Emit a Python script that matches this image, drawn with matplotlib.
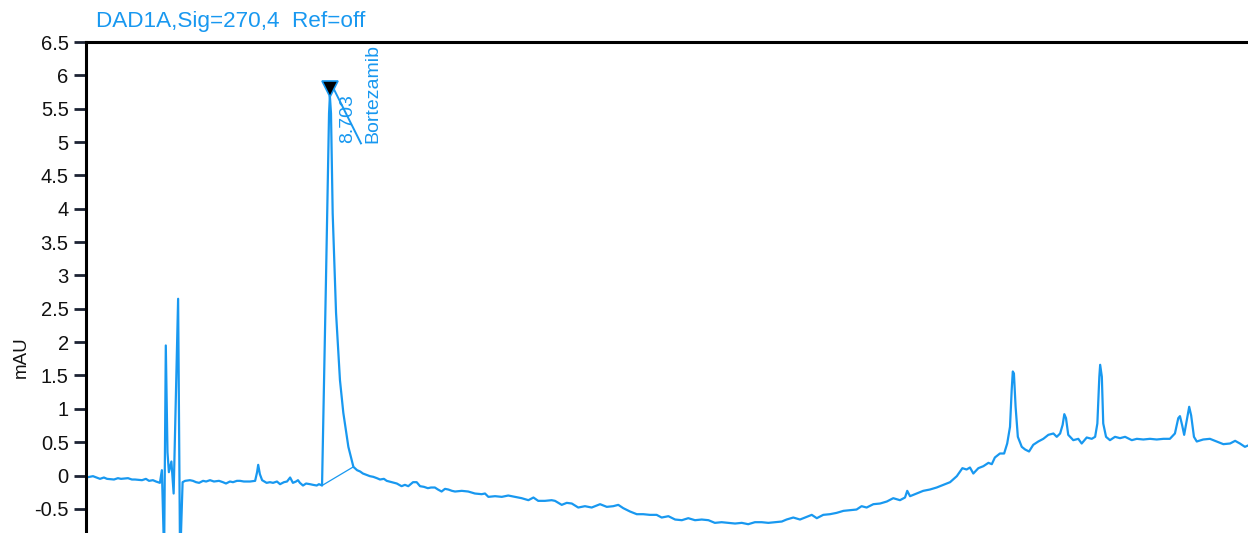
import matplotlib
matplotlib.use("Agg")
import matplotlib.pyplot as plt
import numpy as np

plt.rcParams['font.family'] = ['Liberation Sans', 'DejaVu Sans']

# Signal trace (retention time in min, absorbance in mAU)
time_min = [
    0.00, 0.25, 0.50, 0.64, 0.75, 1.00, 1.14, 1.25, 1.50, 1.64, 1.75, 2.00, 2.14, 2.25, 2.39, 2.50, 2.64,
    2.71, 2.79, 2.85, 2.91, 2.96, 3.05, 3.13, 3.29, 3.36, 3.45, 3.54,
    3.71, 3.82, 3.93, 4.04, 4.18, 4.29, 4.43, 4.57, 4.75, 4.89, 5.00, 5.14, 5.25, 5.39, 5.50, 5.64,
    5.86, 6.04, 6.11, 6.15, 6.21, 6.29, 6.45, 6.57, 6.68, 6.82, 6.93, 7.07, 7.18, 7.29, 7.39, 7.50,
    7.57, 7.64, 7.75, 7.86, 8.00, 8.11, 8.24, 8.32, 8.43,
    8.57, 8.68, 8.71, 8.75, 8.81, 8.93, 9.07, 9.19, 9.37, 9.55, 9.68, 9.79, 9.89, 10.02, 10.14,
    10.26, 10.39, 10.50, 10.64, 10.74, 10.92, 11.10, 11.27, 11.39, 11.51, 11.68, 11.81, 11.93,
    12.07, 12.21, 12.32, 12.46, 12.57, 12.70, 12.82, 12.94, 13.07, 13.18, 13.42, 13.65, 13.89,
    14.13, 14.25, 14.37, 14.61, 14.85, 15.08, 15.32, 15.56, 15.80, 15.98, 16.15, 16.39, 16.63,
    16.75, 16.99, 17.17, 17.35, 17.58, 17.82, 18.06, 18.36, 18.60, 18.83, 19.01, 19.19, 19.43,
    19.67, 19.90, 20.14, 20.38, 20.56, 20.80, 21.04, 21.28, 21.51, 21.75, 21.99, 22.23, 22.46,
    22.70, 22.94, 23.18, 23.42, 23.65, 23.89, 24.13, 24.37, 24.61, 24.85, 25.02, 25.26, 25.50,
    25.74, 25.92, 26.10, 26.33, 26.57, 26.81, 27.05, 27.29, 27.52, 27.70, 27.88, 28.12, 28.36,
    28.60, 28.83, 29.07, 29.25, 29.33, 29.43, 29.67, 29.90, 30.14, 30.38, 30.62, 30.86, 31.10,
    31.30, 31.45, 31.57, 31.69, 31.87, 32.05, 32.23, 32.35, 32.46, 32.64, 32.79, 32.90, 33.00,
    33.06, 33.10, 33.14, 33.20, 33.28, 33.42, 33.54, 33.68, 33.83, 34.01, 34.19, 34.37, 34.55,
    34.67, 34.79, 34.88, 34.94, 35.00, 35.08, 35.26, 35.44, 35.56, 35.74, 35.92, 36.04, 36.12,
    36.19, 36.22, 36.28, 36.33, 36.43, 36.57, 36.75, 36.93, 37.11, 37.35, 37.53, 37.76, 38.00,
    38.24, 38.48, 38.71, 38.89, 39.01, 39.07, 39.15, 39.22, 39.31, 39.40, 39.47, 39.57, 39.67,
    39.90, 40.14, 40.38, 40.62, 40.86, 41.04, 41.21, 41.39, 41.50,
]
signal_mau = [
    -0.03, -0.01, -0.05, -0.03, -0.05, -0.06, -0.04, -0.05, -0.04, -0.06, -0.06, -0.07, -0.05, -0.08, -0.07, -0.09, -0.11,
    0.08, -1.20, 1.95, 0.35, 0.05, 0.21, -0.27, 2.65, -1.30, -0.10, -0.08,
    -0.07, -0.08, -0.10, -0.11, -0.08, -0.09, -0.07, -0.09, -0.08, -0.10, -0.12, -0.09, -0.10, -0.08, -0.08, -0.09,
    -0.09, -0.08, 0.05, 0.16, 0.02, -0.07, -0.11, -0.10, -0.11, -0.09, -0.13, -0.10, -0.09, -0.03, -0.11, -0.09,
    -0.07, -0.11, -0.15, -0.12, -0.13, -0.14, -0.15, -0.13, -0.15,
    2.92, 5.43, 5.69, 5.43, 3.93, 2.44, 1.43, 0.94, 0.43, 0.13, 0.08, 0.06, 0.03, 0.01, -0.01,
    -0.02, -0.04, -0.06, -0.05, -0.08, -0.10, -0.12, -0.16, -0.14, -0.16, -0.10, -0.10, -0.16,
    -0.17, -0.19, -0.18, -0.18, -0.21, -0.24, -0.20, -0.21, -0.23, -0.24, -0.23, -0.24, -0.27,
    -0.28, -0.27, -0.32, -0.31, -0.32, -0.30, -0.32, -0.34, -0.37, -0.33, -0.38, -0.38, -0.37,
    -0.38, -0.44, -0.41, -0.42, -0.48, -0.46, -0.48, -0.43, -0.47, -0.46, -0.44, -0.49, -0.54,
    -0.58, -0.58, -0.59, -0.59, -0.63, -0.61, -0.66, -0.67, -0.64, -0.67, -0.66, -0.67, -0.71,
    -0.70, -0.71, -0.72, -0.71, -0.73, -0.70, -0.70, -0.71, -0.70, -0.69, -0.66, -0.63, -0.66,
    -0.62, -0.59, -0.64, -0.59, -0.58, -0.56, -0.53, -0.52, -0.51, -0.46, -0.48, -0.43, -0.42,
    -0.39, -0.34, -0.37, -0.33, -0.23, -0.31, -0.27, -0.23, -0.21, -0.18, -0.14, -0.10, -0.01,
    0.11, 0.09, 0.12, 0.03, 0.11, 0.14, 0.19, 0.17, 0.27, 0.33, 0.33, 0.48, 0.73,
    1.28, 1.56, 1.53, 1.03, 0.58, 0.43, 0.39, 0.36, 0.46, 0.51, 0.55, 0.61, 0.63,
    0.58, 0.63, 0.76, 0.92, 0.86, 0.61, 0.53, 0.55, 0.48, 0.57, 0.55, 0.58, 0.78,
    1.48, 1.66, 1.48, 0.78, 0.58, 0.53, 0.58, 0.56, 0.58, 0.53, 0.55, 0.54, 0.55,
    0.54, 0.55, 0.55, 0.63, 0.86, 0.89, 0.75, 0.61, 0.82, 1.03, 0.90, 0.58, 0.51,
    0.54, 0.55, 0.51, 0.47, 0.48, 0.52, 0.48, 0.43, 0.45,
]

# Integrated peak
peak_rt = 8.703
peak_name = "Bortezamib"
peak_apex = 5.80
peak_base_t = [8.43, 9.55]
peak_base_v = [-0.15, 0.13]
leader_t = [8.82, 9.82]
leader_v = [5.82, 4.98]

blue = '#1898f0'

fig = plt.figure(figsize=(12.48, 5.33), dpi=100)
ax = fig.add_axes([86 / 1248, 0, 1 - 86 / 1248, (533 - 42) / 533])

ax.plot(time_min, signal_mau, color=blue, lw=1.6)
ax.plot(peak_base_t, peak_base_v, color=blue, lw=0.9)
ax.plot(leader_t, leader_v, color=blue, lw=1.4)
ax.plot([peak_rt], [peak_apex], marker='v', ms=12, mfc='black', mec=blue, mew=1.2, ls='none')

ax.text(9.36, 4.98, f"{peak_rt:.3f}", rotation=90, color=blue, fontsize=14,
        ha='center', va='bottom')
ax.text(10.25, 4.98, peak_name, rotation=90, color=blue, fontsize=14,
        ha='center', va='bottom', clip_on=False)

ax.set_xlim(0, 41.5)
ax.set_ylim(-0.862, 6.5)
ax.set_xticks([])
ax.set_yticks(np.arange(-0.5, 6.51, 0.5))
ax.set_yticklabels([f"{v:g}" for v in np.arange(-0.5, 6.51, 0.5)])
ax.tick_params(axis='y', length=9, width=2, color='#1c2333', labelsize=14.5,
               pad=3.5, labelcolor='#111111')

for side in ['right', 'bottom']:
    ax.spines[side].set_visible(False)
for side in ['left', 'top']:
    ax.spines[side].set_linewidth(2.2)
    ax.spines[side].set_color('black')

fig.text(21 / 1248, 1 - 357 / 533, "mAU", rotation=90, fontsize=13.5,
         ha='center', va='center', color='#111111')
fig.text(96 / 1248, 1 - 21 / 533, "DAD1A,Sig=270,4  Ref=off", fontsize=16.2,
         color=blue, ha='left', va='center')

fig.savefig('out.png', dpi=100)
